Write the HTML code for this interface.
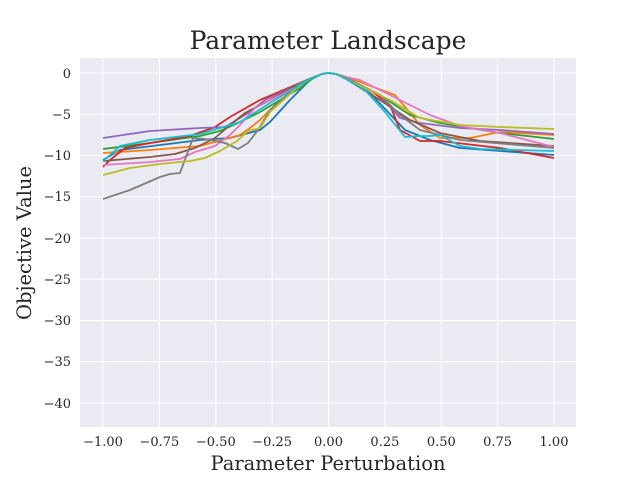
<!DOCTYPE html><html><head><style>body{margin:0;background:#fff}svg text{font-family:"DejaVu Serif","Liberation Serif",serif;fill:#262626}</style></head><body>
<svg width="640" height="480" xmlns="http://www.w3.org/2000/svg">
<rect x="80" y="58" width="496" height="369" fill="#eaeaf2"/>
<g stroke="#fff" stroke-width="1">
<line x1="103" x2="103" y1="58" y2="427"/><line x1="159.4" x2="159.4" y1="58" y2="427"/><line x1="215.8" x2="215.8" y1="58" y2="427"/><line x1="272.1" x2="272.1" y1="58" y2="427"/><line x1="328.5" x2="328.5" y1="58" y2="427"/><line x1="384.9" x2="384.9" y1="58" y2="427"/><line x1="441.3" x2="441.3" y1="58" y2="427"/><line x1="497.6" x2="497.6" y1="58" y2="427"/><line x1="554" x2="554" y1="58" y2="427"/>
<line x1="80" x2="576" y1="73" y2="73"/><line x1="80" x2="576" y1="114.25" y2="114.25"/><line x1="80" x2="576" y1="155.5" y2="155.5"/><line x1="80" x2="576" y1="196.75" y2="196.75"/><line x1="80" x2="576" y1="238" y2="238"/><line x1="80" x2="576" y1="279.25" y2="279.25"/><line x1="80" x2="576" y1="320.5" y2="320.5"/><line x1="80" x2="576" y1="361.75" y2="361.75"/><line x1="80" x2="576" y1="403" y2="403"/>
</g>
<g fill="none" stroke-width="1.8" stroke-linejoin="round">
<polyline stroke="#1f77b4" points="103,160 120,150 200,140 230,138 260,130 270,122 290,100 312,78 322,74 328,73 336,74 346,78 370,93 405,130 430,140 460,148 554,155"/>
<polyline stroke="#ff7f0e" points="103,153 150,150 200,146 240,135 250,128 260,120 275,105 300,85 312,78 322,74 328,73 336,74 346,77 360,82 395,95 420,125 440,138 470,138 500,132 554,135"/>
<polyline stroke="#2ca02c" points="103,149 150,143 200,136 220,131 240,122 260,112 300,88 312,79 322,74 328,73 336,74 346,78 380,95 410,115 440,123 500,133 554,139"/>
<polyline stroke="#d62728" points="103,167 110,160 125,148 150,143 190,136 215,127 230,117 260,100 300,83 312,78 322,74 328,73 336,74 346,78 370,90 390,105 400,130 420,141 440,141 500,148 554,158"/>
<polyline stroke="#9467bd" points="103,138 150,131 200,128 225,127 235,121 250,112 265,100 300,83 312,78 322,74 328,73 336,74 346,78 380,95 400,118 420,123 460,128 500,130 554,134"/>
<polyline stroke="#8c564b" points="103,161 150,157 175,154 195,148 215,138 230,125 245,113 270,100 300,83 312,78 322,74 328,73 336,74 346,79 380,100 410,120 440,133 480,141 554,146"/>
<polyline stroke="#e377c2" points="103,165 150,162 180,159 195,152 215,146 230,135 240,125 255,108 300,85 312,78 322,74 328,73 336,74 346,77 360,80 400,100 430,115 460,126 500,133 554,147"/>
<polyline stroke="#7f7f7f" points="103,199 130,190 160,177 170,174 180,173 193,138 205,139 215,141 225,143 238,149 248,143 258,130 270,110 300,83 312,78 322,74 328,73 336,74 346,78 380,95 400,115 420,130 460,140 554,148"/>
<polyline stroke="#bcbd22" points="103,175 130,168 160,164 190,161 205,158 220,151 237,141 248,131 260,128 270,112 300,85 312,78 322,74 328,73 336,74 346,79 390,100 420,118 460,125 500,127 554,129"/>
<polyline stroke="#17becf" points="103,161 110,155 120,146 150,140 200,134 240,122 270,103 300,85 312,78 322,74 328,73 336,74 346,79 365,90 385,112 405,137 420,136 430,136 440,135 460,146 480,149 554,151"/>
</g>
<g font-size="13" text-anchor="middle">
<text x="103" y="446">−1.00</text><text x="159.4" y="446">−0.75</text><text x="215.8" y="446">−0.50</text><text x="272.1" y="446">−0.25</text><text x="328.5" y="446">0.00</text><text x="384.9" y="446">0.25</text><text x="441.3" y="446">0.50</text><text x="497.6" y="446">0.75</text><text x="554" y="446">1.00</text>
</g>
<g font-size="13" text-anchor="end">
<text x="71" y="78">0</text><text x="71" y="119">−5</text><text x="71" y="160">−10</text><text x="71" y="201">−15</text><text x="71" y="243">−20</text><text x="71" y="284">−25</text><text x="71" y="325">−30</text><text x="71" y="366">−35</text><text x="71" y="408">−40</text>
</g>
<text x="328" y="470" font-size="19.5" text-anchor="middle">Parameter Perturbation</text>
<text transform="translate(31,243) rotate(-90)" font-size="19.5" text-anchor="middle">Objective Value</text>
<text x="328" y="49" font-size="25" text-anchor="middle">Parameter Landscape</text>
</svg>
</body></html>
